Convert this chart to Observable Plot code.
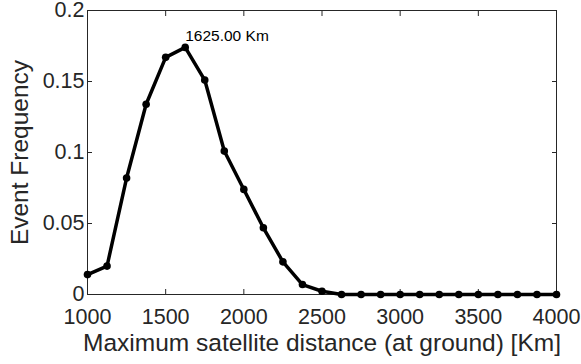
<!DOCTYPE html>
<html>
<head>
<meta charset="utf-8">
<script src="https://cdn.jsdelivr.net/npm/d3@7"></script>
<script src="https://cdn.jsdelivr.net/npm/@observablehq/plot@0.6"></script>
<style>
  html, body { margin: 0; padding: 0; background: #fff; }
  #chart svg { display: block; }
</style>
</head>
<body>
<div id="chart"></div>
<script>
const distances = [1000, 1125, 1250, 1375, 1500, 1625, 1750, 1875, 2000, 2125, 2250, 2375, 2500,
  2625, 2750, 2875, 3000, 3125, 3250, 3375, 3500, 3625, 3750, 3875, 4000];
const frequencies = [0.014, 0.020, 0.082, 0.134, 0.167, 0.174, 0.151, 0.101, 0.074, 0.047, 0.023, 0.007, 0.0023,
  0, 0, 0, 0, 0, 0, 0, 0, 0, 0, 0, 0];
const xTicks = [1000, 1500, 2000, 2500, 3000, 3500, 4000];
const yTicks = [0, 0.05, 0.1, 0.15, 0.2];
const xLabel = "Maximum satellite distance (at ground) [Km]";
const yLabel = "Event Frequency";

const data = distances.map((d, i) => ({x: d, y: frequencies[i]}));
const peak = data.reduce((a, b) => (b.y > a.y ? b : a));
const peakLabel = `${peak.x.toFixed(2)} Km`;

const ink = "#262626";
const font = "'Liberation Sans', Arial, Helvetica, sans-serif";

const chart = Plot.plot({
  width: 581,
  height: 364,
  marginLeft: 87,
  marginRight: 25,
  marginTop: 10,
  marginBottom: 70,
  style: {fontFamily: font, color: ink, background: "#fff"},
  x: {domain: [1000, 4000]},
  y: {domain: [0, 0.2]},
  marks: [
    Plot.frame({stroke: ink, strokeWidth: 1}),
    Plot.axisX({anchor: "bottom", ticks: xTicks, tickSize: -5, tickPadding: 19, fontSize: 21.5, label: null, tickFormat: d => String(d), stroke: ink, fill: ink}),
    Plot.axisX({anchor: "top", ticks: xTicks, tickSize: -5, label: null, tickFormat: () => "", stroke: ink}),
    Plot.axisY({anchor: "left", ticks: yTicks, tickSize: -5, tickPadding: 8, fontSize: 21.5, label: null, tickFormat: d => String(d), stroke: ink, fill: ink}),
    Plot.axisY({anchor: "right", ticks: yTicks, tickSize: -5, label: null, tickFormat: () => "", stroke: ink}),
    Plot.line(data, {x: "x", y: "y", stroke: "black", strokeWidth: 3.5, clip: false}),
    Plot.dot(data, {x: "x", y: "y", fill: "black", r: 3.8}),
    Plot.text([peak], {x: "x", y: "y", text: () => peakLabel, textAnchor: "start", lineAnchor: "bottom", dx: 0, dy: -6, fontSize: 15.5, fill: "black"}),
    Plot.text([xLabel], {frameAnchor: "bottom", text: d => d, textAnchor: "middle", lineAnchor: "middle", dy: 49, fontSize: 24.5, fill: ink}),
    Plot.text([yLabel], {frameAnchor: "left", text: d => d, textAnchor: "middle", rotate: -90, lineAnchor: "middle", dx: -67, fontSize: 24.5, fill: ink})
  ]
});
document.getElementById("chart").appendChild(chart);
</script>
</body>
</html>
